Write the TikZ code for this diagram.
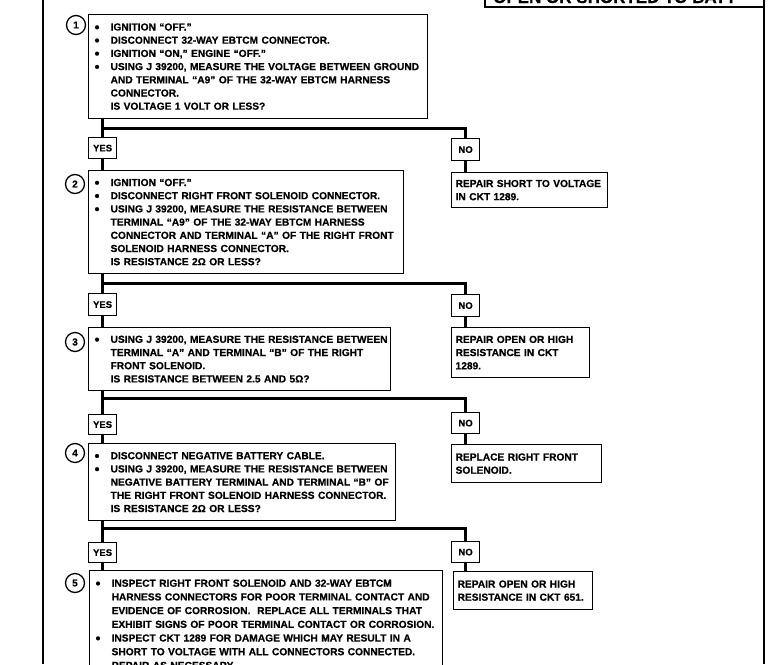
\documentclass[tikz,border=0pt]{standalone}
\usepackage{fontspec}
\setmainfont{Liberation Sans}
\newfontfamily\heavy{Liberation Sans}[UprightFont=* Bold, FakeBold=0.6]
\newcommand{\bodyfont}{\heavy\fontsize{10.2}{13.2}\selectfont}
\newcommand{\dotb}{\raisebox{-1.4pt}{\fontsize{14}{14}\selectfont\textbullet}}
\newcommand{\bt}[1]{\mbox{\makebox[16pt][l]{\dotb}#1}}
\newcommand{\ct}[1]{\mbox{\hspace*{16pt}#1}}
\begin{document}
\begin{tikzpicture}[x=1pt,y=-1pt,
  stepbox/.style={draw, line width=1.2pt, anchor=north west, inner xsep=6pt, inner ysep=2pt, align=left, font=\bodyfont},
  fixbox/.style={draw, line width=1.2pt, anchor=north west, inner xsep=4pt, inner ysep=2pt, align=left, font=\bodyfont},
  answer/.style={draw, line width=1.2pt, anchor=north west, inner sep=0pt, minimum width=28pt, font=\heavy\fontsize{9.5}{10}\selectfont},
  num/.style={draw, circle, line width=1.3pt, minimum size=19pt, inner sep=0pt, font=\heavy\fontsize{10}{10}\selectfont},
  flow/.style={line width=3pt},
  frame/.style={line width=1.5pt}]
\useasboundingbox (0,0) rectangle (778,664);
\clip (0,0) rectangle (778,664);

% page frame
\draw[frame] (43,0) -- (43,664);
\draw[frame] (764,0) -- (764,664);
\draw[frame] (485,-30) rectangle (764,7);
\node[anchor=base west, inner sep=0pt, font=\heavy\fontsize{17}{17}\selectfont] (title) at (493,3) {OPEN OR SHORTED TO BATT};

% step numbers
\node[num] (c1) at (76,25) {1};
\node[num] (c2) at (75,184) {2};
\node[num] (c3) at (75,342) {3};
\node[num] (c4) at (75,453) {4};
\node[num] (c5) at (75,583) {5};

% step boxes
\node[stepbox, text width=327pt, minimum height=104pt] (b1) at (88,14) {%
\bt{IGNITION “OFF.”}\\
\bt{DISCONNECT 32-WAY EBTCM CONNECTOR.}\\
\bt{IGNITION “ON,” ENGINE “OFF.”}\\
\bt{USING J 39200, MEASURE THE VOLTAGE BETWEEN GROUND}\\
\ct{AND TERMINAL “A9” OF THE 32-WAY EBTCM HARNESS}\\
\ct{CONNECTOR.}\\
\ct{IS VOLTAGE 1 VOLT OR LESS?}};

\node[stepbox, text width=303pt, minimum height=103pt] (b2) at (88,170) {%
\bt{IGNITION “OFF.”}\\
\bt{DISCONNECT RIGHT FRONT SOLENOID CONNECTOR.}\\
\bt{USING J 39200, MEASURE THE RESISTANCE BETWEEN}\\
\ct{TERMINAL “A9” OF THE 32-WAY EBTCM HARNESS}\\
\ct{CONNECTOR AND TERMINAL “A” OF THE RIGHT FRONT}\\
\ct{SOLENOID HARNESS CONNECTOR.}\\
\ct{IS RESISTANCE 2Ω OR LESS?}};

\node[stepbox, text width=290pt, minimum height=63pt] (b3) at (88,327) {%
\bt{USING J 39200, MEASURE THE RESISTANCE BETWEEN}\\
\ct{TERMINAL “A” AND TERMINAL “B” OF THE RIGHT}\\
\ct{FRONT SOLENOID.}\\
\ct{IS RESISTANCE BETWEEN 2.5 AND 5Ω?}};

\node[stepbox, text width=295pt, minimum height=77pt] (b4) at (88,443) {%
\bt{DISCONNECT NEGATIVE BATTERY CABLE.}\\
\bt{USING J 39200, MEASURE THE RESISTANCE BETWEEN}\\
\ct{NEGATIVE BATTERY TERMINAL AND TERMINAL “B” OF}\\
\ct{THE RIGHT FRONT SOLENOID HARNESS CONNECTOR.}\\
\ct{IS RESISTANCE 2Ω OR LESS?}};

\node[stepbox, text width=341pt, inner ysep=9pt, font=\heavy\fontsize{10.2}{13.7}\selectfont] (b5) at (89,570) {%
\bt{INSPECT RIGHT FRONT SOLENOID AND 32-WAY EBTCM}\\
\ct{HARNESS CONNECTORS FOR POOR TERMINAL CONTACT AND}\\
\ct{EVIDENCE OF CORROSION.\ \ REPLACE ALL TERMINALS THAT}\\
\ct{EXHIBIT SIGNS OF POOR TERMINAL CONTACT OR CORROSION.}\\
\bt{INSPECT CKT 1289 FOR DAMAGE WHICH MAY RESULT IN A}\\
\ct{SHORT TO VOLTAGE WITH ALL CONNECTORS CONNECTED.}\\
\ct{REPAIR AS NECESSARY.}};

% answers
\node[answer, minimum height=21pt] (yes1) at (88,137) {YES};
\node[answer, minimum height=22pt] (yes2) at (88,293) {YES};
\node[answer, minimum height=20pt] (yes3) at (88,414) {YES};
\node[answer, minimum height=20pt] (yes4) at (88,542) {YES};
\node[answer, minimum height=22pt] (no1) at (451,138) {NO};
\node[answer, minimum height=22pt] (no2) at (451,294) {NO};
\node[answer, minimum height=21pt] (no3) at (451,412) {NO};
\node[answer, minimum height=21pt] (no4) at (451,541) {NO};

% repair boxes
\node[fixbox, text width=148pt, minimum height=35pt] (r1) at (451,172) {%
\mbox{REPAIR SHORT TO VOLTAGE}\\ \mbox{IN CKT 1289.}};
\node[fixbox, text width=130pt, minimum height=50pt] (r2) at (451,327) {%
\mbox{REPAIR OPEN OR HIGH}\\ \mbox{RESISTANCE IN CKT}\\ \mbox{1289.}};
\node[fixbox, text width=142pt, minimum height=38pt] (r3) at (451,444) {%
\mbox{REPLACE RIGHT FRONT}\\ \mbox{SOLENOID.}};
\node[fixbox, text width=131pt, minimum height=38pt] (r4) at (453,571) {%
\mbox{REPAIR OPEN OR HIGH}\\ \mbox{RESISTANCE IN CKT 651.}};

% branch points
\coordinate (j1) at (102,128);
\coordinate (j2) at (102,283);
\coordinate (j3) at (102,398);
\coordinate (j4) at (102,528);

% connectors
\draw[flow] (b1.south -| yes1.north) -- (yes1.north);
\draw[flow] (j1) -| (no1.north);
\draw[flow] (yes1.south) -- (yes1.south |- b2.north);
\draw[flow] (no1.south) -- (no1.south |- r1.north);

\draw[flow] (b2.south -| yes2.north) -- (yes2.north);
\draw[flow] (j2) -| (no2.north);
\draw[flow] (yes2.south) -- (yes2.south |- b3.north);
\draw[flow] (no2.south) -- (no2.south |- r2.north);

\draw[flow] (b3.south -| yes3.north) -- (yes3.north);
\draw[flow] (j3) -| (no3.north);
\draw[flow] (yes3.south) -- (yes3.south |- b4.north);
\draw[flow] (no3.south) -- (no3.south |- r3.north);

\draw[flow] (b4.south -| yes4.north) -- (yes4.north);
\draw[flow] (j4) -| (no4.north);
\draw[flow] (yes4.south) -- (yes4.south |- b5.north);
\draw[flow] (no4.south) -- (no4.south |- r4.north);
\end{tikzpicture}
\end{document}
